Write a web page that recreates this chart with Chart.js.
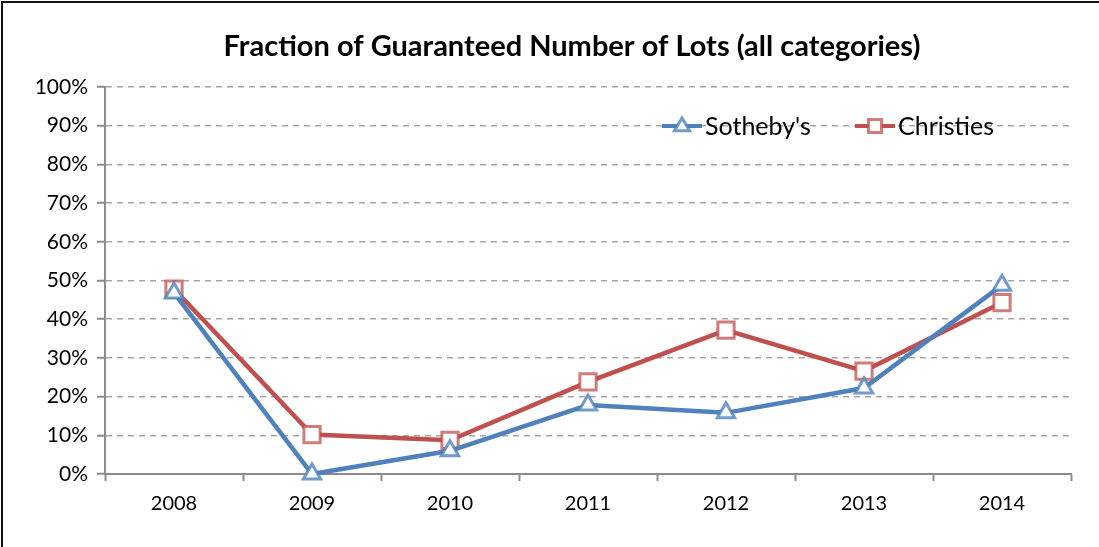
<!DOCTYPE html>
<html>
<head>
<meta charset="utf-8">
<script src="https://cdn.jsdelivr.net/npm/chart.js@4/dist/chart.umd.min.js"></script>
<style>
  html, body { margin: 0; padding: 0; background: #fff; }
  #wrap { position: relative; width: 1099px; height: 547px; }
</style>
</head>
<body>
<div id="wrap"><canvas id="chart" width="1099" height="547"></canvas></div>
<script>
// dados
const years = ["2008", "2009", "2010", "2011", "2012", "2013", "2014"];
const sothebys = [46.8, 0.0, 6.0, 17.8, 15.8, 22.2, 48.8];
const christies = [47.8, 10.2, 8.7, 23.8, 37.2, 26.6, 44.3];
const yTicks = [0, 10, 20, 30, 40, 50, 60, 70, 80, 90, 100];

const blue = "#4f81bd";
const red = "#c0504d";
const fontFam = "Lato, 'Open Sans', sans-serif";

// título, moldura e legenda desenhados à mão
const decor = {
  id: "decor",
  afterDraw(chart) {
    const ctx = chart.ctx;
    ctx.save();
    // moldura (só topo e esquerda aparecem)
    ctx.strokeStyle = "#111";
    ctx.lineWidth = 2;
    ctx.beginPath();
    ctx.moveTo(2, 547);
    ctx.lineTo(2, 2);
    ctx.lineTo(1099, 2);
    ctx.stroke();

    // título
    ctx.fillStyle = "#000";
    ctx.font = "bold 29px " + fontFam;
    ctx.textAlign = "center";
    ctx.textBaseline = "middle";
    ctx.fillText("Fraction of Guaranteed Number of Lots (all categories)", 572, 47);

    // legenda
    const items = [
      { ds: chart.data.datasets[0], x: 662 },
      { ds: chart.data.datasets[1], x: 855 }
    ];
    const y = 126;
    ctx.font = "25px " + fontFam;
    ctx.textAlign = "left";
    items.forEach(it => {
      const ds = it.ds;
      ctx.strokeStyle = ds.borderColor;
      ctx.lineWidth = 4;
      ctx.beginPath();
      ctx.moveTo(it.x, y);
      ctx.lineTo(it.x + 40, y);
      ctx.stroke();
      ctx.fillStyle = ds.pointBackgroundColor;
      ctx.strokeStyle = ds.pointBorderColor;
      ctx.lineWidth = 3;
      ctx.beginPath();
      if (ds.pointStyle === "triangle") {
        const r = 8;
        ctx.moveTo(it.x + 20, y - r);
        ctx.lineTo(it.x + 20 + r * 0.95, y + r * 0.6);
        ctx.lineTo(it.x + 20 - r * 0.95, y + r * 0.6);
        ctx.closePath();
      } else {
        const r = 6.5;
        ctx.rect(it.x + 20 - r, y - r, 2 * r, 2 * r);
      }
      ctx.fill();
      ctx.stroke();
      ctx.fillStyle = "#000";
      ctx.textBaseline = "middle";
      ctx.fillText(ds.label, it.x + 43, y + 1);
    });
    ctx.restore();
  }
};

new Chart(document.getElementById("chart").getContext("2d"), {
  type: "line",
  data: {
    labels: years,
    datasets: [
      {
        label: "Sotheby's",
        data: sothebys,
        borderColor: blue,
        borderWidth: 4.5,
        pointStyle: "triangle",
        pointRadius: 10,
        pointBorderWidth: 3,
        pointBackgroundColor: "#fff",
        pointBorderColor: "rgba(79,129,189,0.8)",
        tension: 0,
        clip: false
      },
      {
        label: "Christies",
        data: christies,
        borderColor: red,
        borderWidth: 4.5,
        pointStyle: "rect",
        pointRadius: 11.5,
        pointBorderWidth: 3,
        pointBackgroundColor: "#fff",
        pointBorderColor: "rgba(192,80,77,0.75)",
        tension: 0,
        clip: false
      }
    ]
  },
  options: {
    responsive: false,
    animation: false,
    events: [],
    layout: { padding: { left: 0, right: 28, top: 87, bottom: 0 } },
    plugins: {
      legend: { display: false },
      title: { display: false },
      tooltip: { enabled: false }
    },
    scales: {
      x: {
        offset: true,
        grid: {
          offset: true,
          drawOnChartArea: false,
          drawTicks: true,
          tickLength: 7,
          tickColor: "#8c8c8c",
          tickWidth: 2
        },
        border: { color: "#8c8c8c", width: 2 },
        ticks: {
          color: "#000",
          font: { family: fontFam, size: 20 },
          padding: 11,
          maxRotation: 0
        },
        afterFit(scale) { scale.height = 73; }
      },
      y: {
        min: 0,
        max: 100,
        afterBuildTicks(scale) { scale.ticks = yTicks.map(v => ({ value: v })); },
        grid: {
          color: "#a6a6a6",
          lineWidth: 1.5,
          drawTicks: true,
          tickLength: 8,
          tickColor: "#8c8c8c",
          tickWidth: 2,
          tickBorderDash: []
        },
        border: { color: "#8c8c8c", width: 2, dash: [6, 5] },
        ticks: {
          color: "#000",
          font: { family: fontFam, size: 21 },
          padding: 9,
          callback: v => v + "%"
        },
        afterFit(scale) { scale.width = 105; }
      }
    }
  },
  plugins: [decor]
});
</script>
</body>
</html>
